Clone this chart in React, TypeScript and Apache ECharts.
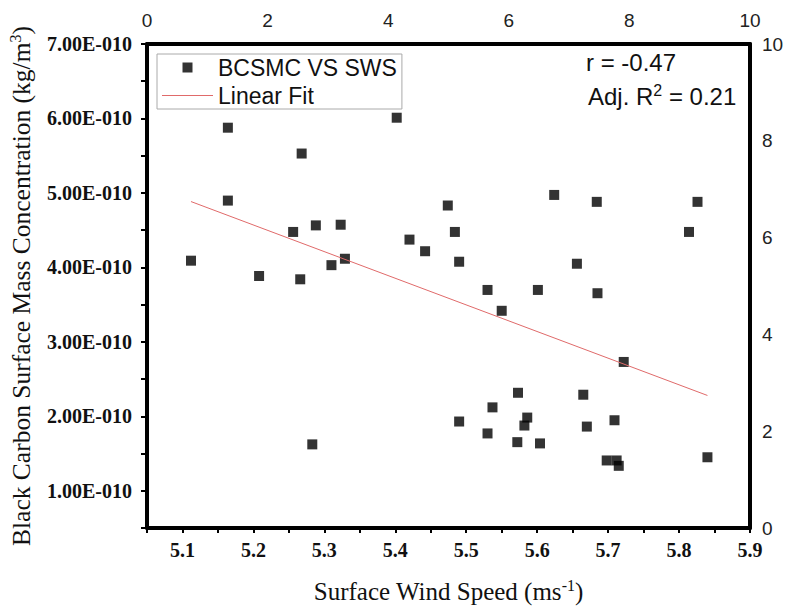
import React, { useEffect, useRef } from "react";
import * as echarts from "echarts";

const windSpeed = [5.112, 5.164, 5.164, 5.208, 5.256, 5.266, 5.268, 5.288, 5.323, 5.31, 5.329, 5.402, 5.283, 5.42, 5.442, 5.474, 5.484, 5.49, 5.53, 5.55, 5.601, 5.624, 5.656, 5.684, 5.685, 5.722, 5.814, 5.826, 5.573, 5.665, 5.537, 5.49, 5.586, 5.582, 5.53, 5.572, 5.604, 5.67, 5.709, 5.698, 5.712, 5.715, 5.84];
const bcsmc = [4.09e-10, 5.876e-10, 4.897e-10, 3.884e-10, 4.476e-10, 3.84e-10, 5.529e-10, 4.564e-10, 4.573e-10, 4.03e-10, 4.116e-10, 6.01e-10, 1.623e-10, 4.373e-10, 4.217e-10, 4.831e-10, 4.476e-10, 4.076e-10, 3.697e-10, 3.417e-10, 3.697e-10, 4.973e-10, 4.049e-10, 4.88e-10, 3.653e-10, 2.73e-10, 4.476e-10, 4.88e-10, 2.316e-10, 2.29e-10, 2.12e-10, 1.93e-10, 1.983e-10, 1.876e-10, 1.77e-10, 1.653e-10, 1.636e-10, 1.862e-10, 1.947e-10, 1.407e-10, 1.407e-10, 1.335e-10, 1.45e-10];
const fitX = [5.112, 5.84];
const fitY = [4.884e-10, 2.28e-10];
const statLines = ["r = -0.47", "Adj. R{sup|2} = 0.21"];

const SERIF = "'Liberation Serif', 'Times New Roman', serif";
const SANS = "'Liberation Sans', Arial, sans-serif";

export default function App() {
  const ref = useRef<HTMLDivElement>(null);
  useEffect(() => {
    if (!ref.current) return;
    const chart = echarts.init(ref.current, null, { renderer: "svg" });
    const scatterData = windSpeed.map((x, i) => [x, bcsmc[i]]);
    const fitData = fitX.map((x, i) => [x, fitY[i]]);
    const supRich = {
      sup: { fontSize: 16, lineHeight: 17, verticalAlign: "top" as const, fontFamily: SERIF, color: "#111" },
    };
    chart.setOption({
      animation: false,
      backgroundColor: "#fff",
      grid: { left: 147, right: 47, top: 44, bottom: 83, containLabel: false, outerBoundsMode: "none" },
      legend: {
        orient: "vertical",
        left: 157,
        top: 54,
        itemWidth: 51,
        itemHeight: 10,
        itemGap: 5,
        padding: [2, 5, 2, 5],
        borderColor: "#aaa",
        borderWidth: 1,
        textStyle: { fontFamily: SANS, fontSize: 23, color: "#111" },
        data: [
          { name: "BCSMC VS SWS", icon: "path://M0 0H1V1H0Z" },
          { name: "Linear Fit", icon: "path://M0 0H51V1H0Z" },
        ],
      },
      xAxis: [
        {
          type: "value",
          position: "bottom",
          min: 5.05,
          max: 5.9,
          interval: 0.05,
          name: "Surface Wind Speed (ms{sup|-1})",
          nameLocation: "middle",
          nameGap: 49,
          nameTextStyle: { fontFamily: SERIF, fontSize: 25, color: "#111", lineHeight: 29, rich: supRich },
          axisLine: { show: true, lineStyle: { color: "#000", width: 4 } },
          axisTick: { show: true, inside: false, length: 5, lineStyle: { color: "#000", width: 2 } },
          splitLine: { show: false },
          axisLabel: {
            margin: 12,
            fontFamily: SERIF,
            fontWeight: "bold",
            fontSize: 20,
            color: "#111",
            formatter: (v: number) => {
              const n = Math.round(v * 20);
              return n % 2 ? "" : (n / 20).toFixed(1);
            },
          },
        },
        {
          type: "value",
          position: "top",
          min: 0,
          max: 10,
          interval: 2,
          axisLine: { show: true, lineStyle: { color: "#000", width: 4 } },
          axisTick: { show: false },
          splitLine: { show: false },
          axisLabel: { margin: 14, fontFamily: SANS, fontSize: 19, color: "#222" },
        },
      ],
      yAxis: [
        {
          type: "value",
          position: "left",
          min: 0.5e-10,
          max: 7e-10,
          interval: 0.5e-10,
          name: "Black Carbon Surface Mass Concentration (kg/m{sup|3})",
          nameLocation: "middle",
          nameGap: 111,
          nameTextStyle: { fontFamily: SERIF, fontSize: 25.5, color: "#111", lineHeight: 29, rich: supRich },
          axisLine: { show: true, lineStyle: { color: "#000", width: 4 } },
          axisTick: { show: true, inside: false, length: 6, lineStyle: { color: "#000", width: 2 } },
          splitLine: { show: false },
          axisLabel: {
            margin: 15,
            fontFamily: SERIF,
            fontWeight: "bold",
            fontSize: 20,
            color: "#111",
            formatter: (v: number) => {
              const n = Math.round(v / 5e-11);
              return n % 2 ? "" : (n / 2).toFixed(2) + "E-010";
            },
          },
        },
        {
          type: "value",
          position: "right",
          min: 0,
          max: 10,
          interval: 2,
          axisLine: { show: true, lineStyle: { color: "#000", width: 4 } },
          axisTick: { show: false },
          splitLine: { show: false },
          axisLabel: { margin: 12, fontFamily: SANS, fontSize: 19, color: "#222" },
        },
      ],
      graphic: [
        {
          type: "text",
          x: 586,
          y: 62,
          style: { text: statLines[0], fontFamily: SANS, fontSize: 24, fill: "#111", verticalAlign: "middle" },
        },
        {
          type: "text",
          x: 588,
          y: 96,
          style: {
            text: statLines[1],
            fontFamily: SANS,
            fontSize: 24,
            fill: "#111",
            verticalAlign: "middle",
            lineHeight: 28,
            rich: { sup: { fontSize: 16, lineHeight: 16, verticalAlign: "top", fontFamily: SANS, fill: "#111" } },
          },
        },
      ],
      series: [
        {
          name: "BCSMC VS SWS",
          type: "scatter",
          xAxisIndex: 0,
          yAxisIndex: 0,
          symbol: "rect",
          symbolSize: 10,
          itemStyle: { color: "#000" },
          data: scatterData,
        },
        {
          name: "Linear Fit",
          type: "line",
          xAxisIndex: 0,
          yAxisIndex: 0,
          symbol: "none",
          showSymbol: false,
          lineStyle: { color: "#e06a6a", width: 1 },
          itemStyle: { color: "#e06a6a" },
          data: fitData,
        },
      ],
    });
    return () => chart.dispose();
  }, []);
  return <div ref={ref} style={{ position: "fixed", left: 0, top: 0, width: 797, height: 611, background: "#fff" }} />;
}
